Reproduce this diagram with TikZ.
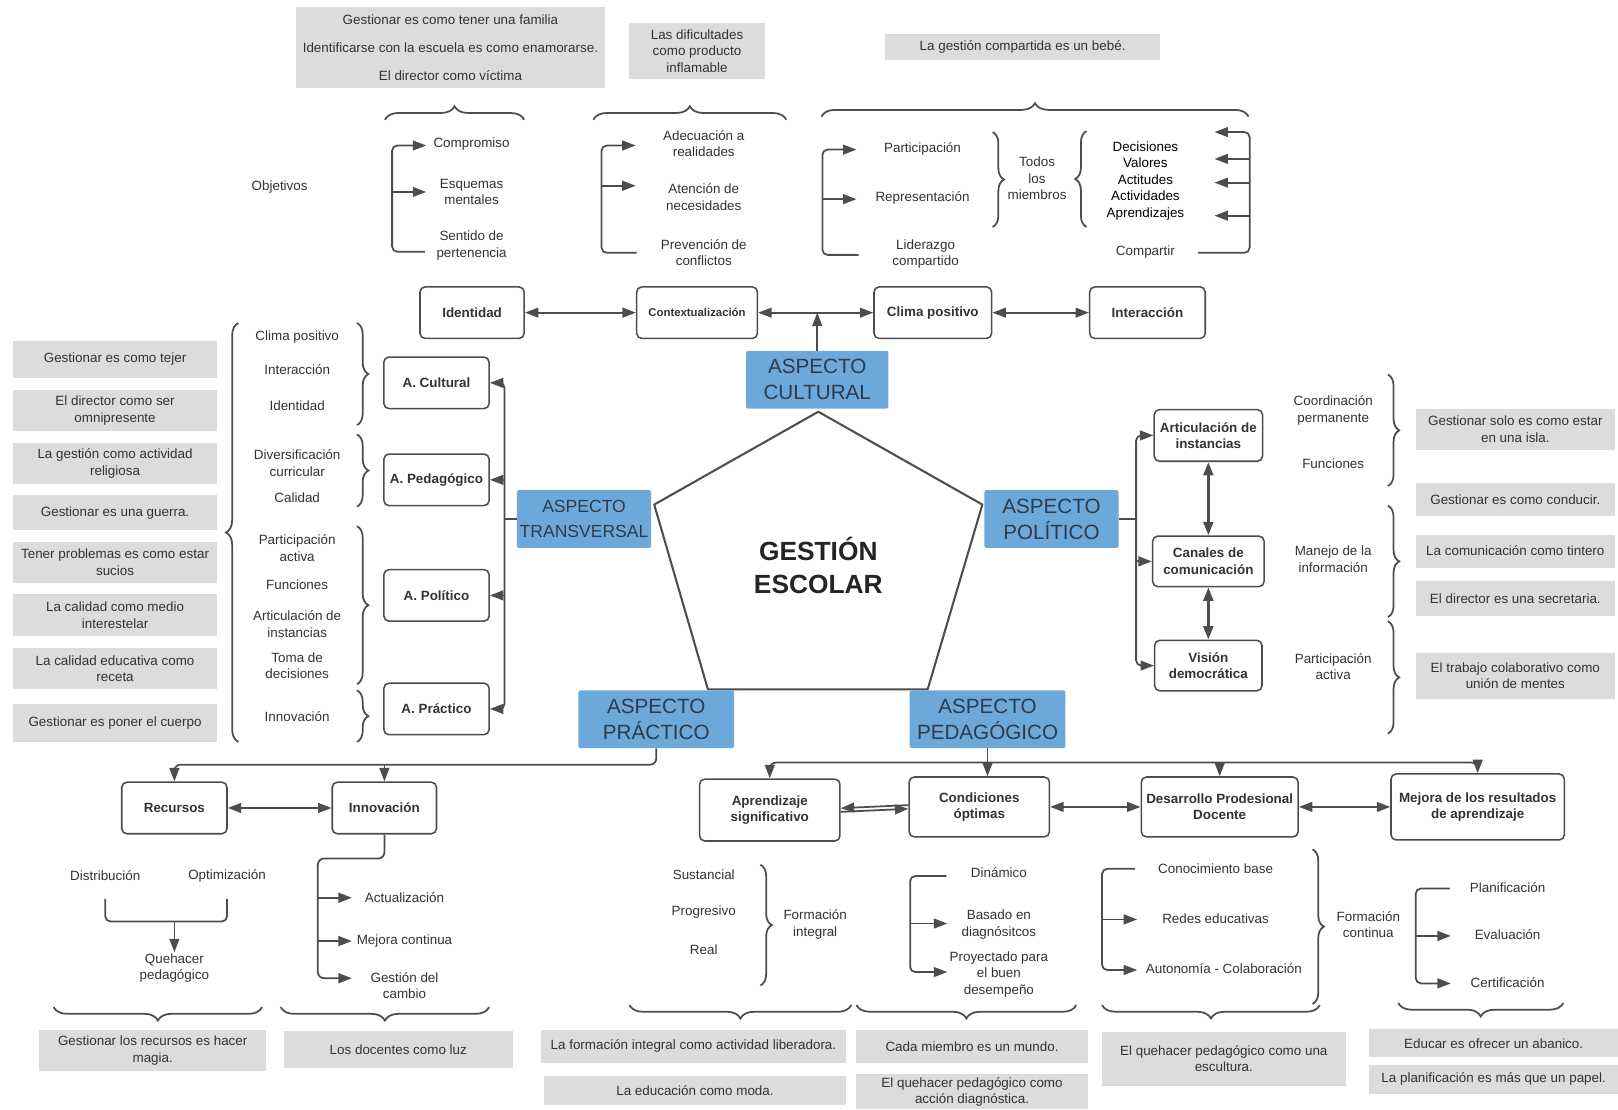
\documentclass[tikz,border=0pt]{standalone}
\usepackage{fontspec}
\setmainfont{Liberation Sans}
\usetikzlibrary{arrows.meta,decorations.pathreplacing}

\definecolor{ink}{HTML}{333333}
\definecolor{edge}{HTML}{4D4D4D}
\definecolor{notefill}{HTML}{DCDCDC}
\definecolor{aspectfill}{HTML}{6CA9DA}
\definecolor{aspectink}{HTML}{2E3B4B}

\begin{document}
\begin{tikzpicture}[x=1pt,y=-1pt,
  >={Triangle[length=13pt,width=9.5pt]},
  wire/.style={draw=edge,line width=1.7pt},
  arr/.style={wire,->},
  darr/.style={wire,<->},
  brc/.style={wire,decorate,decoration={brace,amplitude=#1}},
  brc/.default=12pt,
  lbl/.style={font=\fontsize{13}{16}\selectfont,text=ink,align=center,inner sep=1pt},
  note/.style={fill=notefill,font=\fontsize{13}{16}\selectfont,text=ink,align=center,inner sep=2pt},
  box/.style={draw=edge,line width=1.5pt,rounded corners=5pt,fill=white,
    font=\bfseries\fontsize{13}{16}\selectfont,text=ink,align=center,inner sep=2pt},
  aspect/.style={fill=aspectfill,rounded corners=2pt,font=\fontsize{20}{25}\selectfont,
    text=aspectink,align=center,inner sep=0pt},
]
\useasboundingbox[fill=white] (0,0) rectangle (1568,1075);

% ---------- metaphors above the cultural branch ----------
\node[note,minimum width=299pt,minimum height=78pt,font=\fontsize{13}{27}\selectfont] (nFamilia) at (436.5,46)
  {Gestionar es como tener una familia\\Identificarse con la escuela es como enamorarse.\\El director como víctima};
\node[note,minimum width=131pt,minimum height=55pt] (nDific) at (675.5,49.5) {Las dificultades\\como producto\\inflamable};
\node[note,minimum width=266pt,minimum height=25pt] (nBebe) at (991,45.5) {La gestión compartida es un bebé.};

\draw[brc=13pt] (373,116) -- (508,116);
\draw[brc=13pt] (575,116) -- (762,116);
\draw[brc=13pt] (796,113) -- (1210,113);

% ---------- identity ----------
\node[lbl] (objetivos) at (271,181) {Objetivos};
\node[lbl] (compromiso) at (457,140) {Compromiso};
\node[lbl] (esquemas) at (457,186) {Esquemas\\mentales};
\node[lbl] (sentido) at (457,238) {Sentido de\\pertenencia};
\draw[arr,rounded corners=5pt] (412,244) -- (380,244) -- (380,141) -- (413,141);
\draw[arr] (380,186) -- (413,186);

% ---------- contextualization ----------
\node[lbl] (adecuacion) at (682,139) {Adecuación a\\realidades};
\node[lbl] (atencion) at (682,191) {Atención de\\necesidades};
\node[lbl] (prevencion) at (682,245) {Prevención de\\conflictos};
\draw[arr,rounded corners=5pt] (617,245) -- (583,245) -- (583,141) -- (616,141);
\draw[arr] (583,180) -- (616,180);

% ---------- positive climate ----------
\node[lbl] (particip) at (894,144) {Participación};
\node[lbl] (repres) at (894,192) {Representación};
\node[lbl] (liderazgo) at (897,246) {Liderazgo\\compartido};
\draw[arr,rounded corners=5pt] (832,247) -- (797,247) -- (797,145) -- (830,145);
\draw[arr] (797,193) -- (830,193);
\draw[brc=11pt] (962,128) -- (962,220);
\node[lbl] (todos) at (1005,173) {Todos\\los\\miembros};
\draw[brc=11pt] (1053,220) -- (1053,127);
\node[lbl,text=black] (valores) at (1110,175) {Decisiones\\Valores\\Actitudes\\Actividades\\Aprendizajes};
\node[lbl] (compartir) at (1110,244) {Compartir};
\draw[arr,rounded corners=5pt] (1161,245) -- (1211,245) -- (1211,128) -- (1177,128);
\foreach \yy in {154,177,209} \draw[arr] (1211,\yy) -- (1177,\yy);

% ---------- cultural row ----------
\node[box,minimum width=101pt,minimum height=50pt] (identidad) at (457.5,303) {Identidad};
\node[box,minimum width=117pt,minimum height=50pt,font=\bfseries\fontsize{11}{13}\selectfont] (contexto) at (675.5,303) {Contextualización};
\node[box,minimum width=114pt,minimum height=50pt] (clima) at (904,303) {Clima positivo};
\node[box,minimum width=112pt,minimum height=50pt] (interaccion) at (1112,303) {Interacción};
\draw[darr] (identidad) -- (contexto);
\draw[darr] (contexto) -- (clima);
\draw[darr] (clima) -- (interaccion);

% ---------- centre ----------
\node[aspect,minimum width=138pt,minimum height=56pt] (cultural) at (792,368) {ASPECTO\\CULTURAL};
\draw[arr] (cultural.north) -- (cultural.north |- contexto.east);

\draw[draw=edge,line width=2pt,line join=round] (793,399) -- (952,489) -- (899,668) -- (686,668) -- (634,489) -- cycle;
\node[font=\bfseries\fontsize{25.5}{32}\selectfont,text=ink!70!black,align=center] (gestion) at (793,548) {GESTIÓN\\ESCOLAR};

\node[aspect,minimum width=130pt,minimum height=56pt,font=\fontsize{17}{24}\selectfont] (transversal) at (566,503) {ASPECTO\\TRANSVERSAL};
\node[aspect,minimum width=130pt,minimum height=56pt] (politico) at (1019,503) {ASPECTO\\POLÍTICO};
\node[aspect,minimum width=151pt,minimum height=56pt] (practico) at (636,697) {ASPECTO\\PRÁCTICO};
\node[aspect,minimum width=151pt,minimum height=56pt] (pedagogico) at (957,697) {ASPECTO\\PEDAGÓGICO};

% ---------- transversal branch ----------
\node[note,minimum width=197pt,minimum height=36pt] (mTejer) at (111.5,348) {Gestionar es como tejer};
\node[note,minimum width=197pt,minimum height=40pt] (mOmni) at (111.5,398) {El director como ser\\omnipresente};
\node[note,minimum width=197pt,minimum height=40pt] (mReli) at (111.5,449) {La gestión como actividad\\religiosa};
\node[note,minimum width=197pt,minimum height=34pt] (mGuerra) at (111.5,497) {Gestionar es una guerra.};
\node[note,minimum width=197pt,minimum height=40pt] (mSucios) at (111.5,545) {Tener problemas es como estar\\sucios};
\node[note,minimum width=197pt,minimum height=40pt] (mInter) at (111.5,596) {La calidad como medio\\interestelar};
\node[note,minimum width=197pt,minimum height=40pt] (mReceta) at (111.5,648) {La calidad educativa como\\receta};
\node[note,minimum width=197pt,minimum height=37pt] (mCuerpo) at (111.5,701) {Gestionar es poner el cuerpo};

\draw[brc=12pt] (231,719) -- (231,313);

\node[lbl] (lClima) at (288,327) {Clima positivo};
\node[lbl] (lInter) at (288,358) {Interacción};
\node[lbl] (lIdent) at (288,393) {Identidad};
\node[lbl] (lDiver) at (288,449) {Diversificación\\curricular};
\node[lbl] (lCalidad) at (288,482) {Calidad};
\node[lbl] (lPartic) at (288,531) {Participación\\activa};
\node[lbl] (lFunc) at (288,567) {Funciones};
\node[lbl] (lArtic) at (288,605) {Articulación de\\instancias};
\node[lbl] (lToma) at (288,645) {Toma de\\decisiones};
\node[lbl] (lInnov) at (288,694) {Innovación};

\draw[brc=11pt] (346,313) -- (346,412);
\draw[brc=11pt] (346,421) -- (346,491);
\draw[brc=11pt] (346,510) -- (346,663);
\draw[brc=11pt] (346,669) -- (346,719);

\node[box,minimum width=102pt,minimum height=50pt] (aCultural) at (423,371) {A. Cultural};
\node[box,minimum width=102pt,minimum height=50pt] (aPedag) at (423,465) {A. Pedagógico};
\node[box,minimum width=102pt,minimum height=50pt] (aPolit) at (423,577) {A. Político};
\node[box,minimum width=102pt,minimum height=50pt] (aPract) at (423,687) {A. Práctico};

\coordinate (tJ) at (489,503);
\draw[wire] (transversal.west) -- (tJ);
\draw[arr,rounded corners=5pt] (tJ) |- (aCultural.east);
\draw[arr,rounded corners=5pt] (tJ) |- (aPract.east);
\draw[arr] (tJ |- aPedag.east) -- (aPedag.east);
\draw[arr] (tJ |- aPolit.east) -- (aPolit.east);

% ---------- political branch ----------
\node[box,minimum width=105pt,minimum height=50pt] (artic) at (1171,422) {Articulación de\\instancias};
\node[box,minimum width=108pt,minimum height=49pt] (canales) at (1171,544) {Canales de\\comunicación};
\node[box,minimum width=104pt,minimum height=49pt] (vision) at (1171,645) {Visión\\democrática};

\coordinate (pJ) at (1101,503);
\draw[wire] (politico.east) -- (pJ);
\draw[arr,rounded corners=5pt] (pJ) |- (artic.west);
\draw[arr,rounded corners=5pt] (pJ) |- (vision.west);
\draw[arr] (pJ |- canales.west) -- (canales.west);
\draw[darr,line width=2.6pt] (artic.south) -- (canales.north);
\draw[darr,line width=2.6pt] (canales.south) -- (vision.north);

\node[lbl] (rCoord) at (1292,398) {Coordinación\\permanente};
\node[lbl] (rFunc) at (1292,449) {Funciones};
\node[lbl] (rManejo) at (1292,542) {Manejo de la\\información};
\node[lbl] (rPartic) at (1292,646) {Participación\\activa};

\draw[brc=11pt] (1345,363) -- (1345,471);
\draw[brc=11pt] (1345,490) -- (1345,598);
\draw[brc=11pt] (1345,602) -- (1345,711);

\node[note,minimum width=193pt,minimum height=40pt] (mIsla) at (1468.5,416) {Gestionar solo es como estar\\en una isla.};
\node[note,minimum width=193pt,minimum height=32pt] (mConducir) at (1468.5,484) {Gestionar es como conducir.};
\node[note,minimum width=193pt,minimum height=32pt] (mTintero) at (1468.5,534) {La comunicación como tintero};
\node[note,minimum width=193pt,minimum height=33pt] (mSecret) at (1468.5,580) {El director es una secretaria.};
\node[note,minimum width=193pt,minimum height=44pt] (mMentes) at (1468.5,655) {El trabajo colaborativo como\\unión de mentes};

% ---------- practical branch ----------
\node[box,minimum width=102pt,minimum height=50pt] (recursos) at (169,783) {Recursos};
\node[box,minimum width=101pt,minimum height=50pt] (innov) at (372.5,783) {Innovación};
\coordinate (prJ) at (636,741);
\draw[arr,rounded corners=6pt] (practico.south) -- (prJ) -| (recursos.north);
\draw[arr] (innov.north |- prJ) -- (innov.north);
\draw[darr] (recursos) -- (innov);

\node[lbl] (distrib) at (102,849) {Distribución};
\node[lbl] (optim) at (220,849) {Optimización};
\node[lbl] (quehacer) at (169,938) {Quehacer\\pedagógico};
\draw[wire,rounded corners=5pt] (102,871) -- (102,893) -- (220,893) -- (220,871);
\draw[arr] (169,893) -- (quehacer.north);

\draw[arr,rounded corners=6pt] (innov.south) -- (372.5,832) -- (308,832) -- (308,948) -- (341,948);
\draw[arr] (308,870) -- (341,870);
\draw[arr] (308,912) -- (341,912);
\node[lbl] (actual) at (392,870) {Actualización};
\node[lbl] (mejcont) at (392,912) {Mejora continua};
\node[lbl] (gestcambio) at (392,955) {Gestión del\\cambio};

\draw[brc=13pt] (254,976) -- (52,976);
\draw[brc=13pt] (474,976) -- (272,976);
\node[note,minimum width=220pt,minimum height=40pt] (mMagia) at (148,1018) {Gestionar los recursos es hacer\\magia.};
\node[note,minimum width=222pt,minimum height=36pt] (mLuz) at (386,1017) {Los docentes como luz};

% ---------- pedagogical branch ----------
\node[box,minimum width=136pt,minimum height=60pt] (aprend) at (746,785) {Aprendizaje\\significativo};
\node[box,minimum width=136pt,minimum height=58pt] (cond) at (949,782) {Condiciones\\óptimas};
\node[box,minimum width=152pt,minimum height=58pt] (desarr) at (1182,782) {Desarrollo Prodesional\\Docente};
\node[box,minimum width=168pt,minimum height=64pt] (mejora) at (1432,782) {Mejora de los resultados\\de aprendizaje};

\coordinate (pgJ) at (957,739);
\draw[arr] (pedagogico.south) -- (pedagogico.south |- cond.north);
\draw[arr,rounded corners=6pt] (pgJ) -| (aprend.north);
\draw[arr,rounded corners=6pt] (pgJ) -| (mejora.north);
\draw[arr] (desarr.north |- pgJ) -- (desarr.north);
\draw[arr] ([yshift=1.8pt]cond.west) -- ([yshift=1.8pt]aprend.east);
\draw[arr] ([yshift=-1.8pt]aprend.east) -- ([yshift=-1.8pt]cond.west);
\draw[darr] (cond.east) -- (desarr.west);
\draw[darr] (desarr.east) -- (mejora.west);

\node[lbl] (sustancial) at (682,848) {Sustancial};
\node[lbl] (progresivo) at (682,884) {Progresivo};
\node[lbl] (real) at (682,920) {Real};
\draw[brc=11pt] (737,838) -- (737,955);
\node[lbl] (fintegral) at (790,896) {Formación\\integral};

\draw[arr,rounded corners=5pt] (917,849) -- (882,849) -- (882,942) -- (918,942);
\draw[arr] (882,895) -- (918,895);
\node[lbl] (dinamico) at (968,846) {Dinámico};
\node[lbl] (basado) at (968,896) {Basado en\\diagnósitcos};
\node[lbl] (proyectado) at (968,944) {Proyectado para\\el buen\\desempeño};

\draw[arr,rounded corners=5pt] (1100,842) -- (1068,842) -- (1068,940) -- (1102,940);
\draw[arr] (1068,891) -- (1102,891);
\node[lbl] (conoc) at (1178,842) {Conocimiento base};
\node[lbl] (redes) at (1178,890) {Redes educativas};
\node[lbl] (autonomia) at (1186,939) {Autonomía - Colaboración};
\draw[brc=11pt] (1272,823) -- (1272,973);
\node[lbl] (fcontinua) at (1326,896) {Formación\\continua};

\draw[arr,rounded corners=5pt] (1405,861) -- (1372,861) -- (1372,953) -- (1406,953);
\draw[arr] (1372,907) -- (1406,907);
\node[lbl] (planif) at (1461,860) {Planificación};
\node[lbl] (evalua) at (1461,906) {Evaluación};
\node[lbl] (certif) at (1461,952) {Certificación};

\draw[brc=13pt] (825,974) -- (610,974);
\draw[brc=13pt] (1043,974) -- (830,974);
\draw[brc=13pt] (1279,974) -- (1068,974);
\draw[brc=13pt] (1515,972) -- (1355,972);

\node[note,minimum width=296pt,minimum height=32pt] (mLiber) at (672,1014) {La formación integral como actividad liberadora.};
\node[note,minimum width=293pt,minimum height=28pt] (mModa) at (673.5,1057) {La educación como moda.};
\node[note,minimum width=224pt,minimum height=32pt] (mMundo) at (942,1014) {Cada miembro es un mundo.};
\node[note,minimum width=224pt,minimum height=34pt] (mAccion) at (942,1058) {El quehacer pedagógico como\\acción diagnóstica.};
\node[note,minimum width=236pt,minimum height=52pt] (mEscult) at (1186,1026) {El quehacer pedagógico como una\\escultura.};
\node[note,minimum width=241pt,minimum height=27pt] (mAbanico) at (1447.5,1011) {Educar es ofrecer un abanico.};
\node[note,minimum width=241pt,minimum height=28pt] (mPapel) at (1447.5,1046) {La planificación es más que un papel.};
\end{tikzpicture}
\end{document}
